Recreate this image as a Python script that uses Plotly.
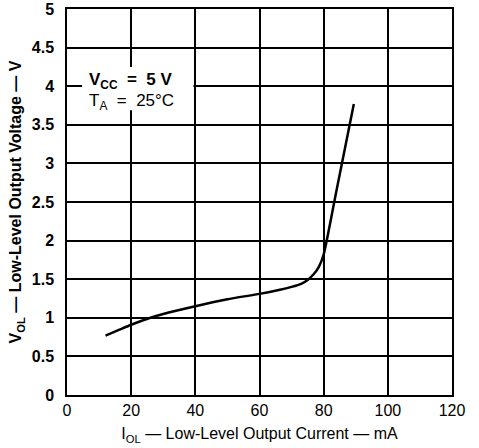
import plotly.graph_objects as go

current_ma = [12, 16, 20, 26, 30, 40, 50, 60, 66, 70, 73, 75, 77, 78.5, 80, 84, 89.4]
vol_v = [0.77, 0.84, 0.91, 1.0, 1.05, 1.15, 1.24, 1.31, 1.36, 1.40, 1.44, 1.49, 1.57, 1.66, 1.82, 2.65, 3.77]

x_ticks = [0, 20, 40, 60, 80, 100, 120]
y_ticks = [0, 0.5, 1, 1.5, 2, 2.5, 3, 3.5, 4, 4.5, 5]

FONT = "Liberation Sans, Arial, Helvetica, sans-serif"

fig = go.Figure()
fig.add_trace(go.Scatter(
    x=current_ma, y=vol_v, mode="lines",
    line=dict(color="black", width=2.5, shape="spline", smoothing=0.6),
    showlegend=False, hoverinfo="skip",
))

fig.add_shape(type="rect", xref="x", yref="y", x0=4.7, x1=39.4, y0=3.69, y1=4.25,
              fillcolor="white", line=dict(width=0), layer="above")

fig.add_annotation(x=6.3, y=4.07, xref="x", yref="y", xanchor="left", yanchor="middle",
                   text="<b>V<sub>CC</sub>&nbsp; = &nbsp;5 V</b>", showarrow=False,
                   font=dict(family=FONT, size=17, color="black"))
fig.add_annotation(x=6.3, y=3.79, xref="x", yref="y", xanchor="left", yanchor="middle",
                   text="T<sub>A</sub>&nbsp; = &nbsp;25°C", showarrow=False,
                   font=dict(family=FONT, size=17, color="black"))

fig.update_xaxes(range=[0, 120], tickvals=x_ticks, ticktext=[str(v) for v in x_ticks],
                 showgrid=True, gridcolor="black", gridwidth=1.5,
                 showline=True, linecolor="black", linewidth=1.5, mirror=True,
                 ticks="", zeroline=False, automargin=False,
                 tickfont=dict(family=FONT, size=16, color="black"),
                 title=dict(text="I<sub>OL</sub> \u2014 Low-Level Output Current \u2014 mA",
                            font=dict(family=FONT, size=16, color="black"), standoff=10))
fig.update_yaxes(range=[0, 5], tickvals=y_ticks,
                 ticktext=["<b>%s</b>" % ("%g" % v) for v in y_ticks],
                 showgrid=True, gridcolor="black", gridwidth=1.5,
                 showline=True, linecolor="black", linewidth=1.5, mirror=True,
                 ticks="", zeroline=False, automargin=False, ticklabelstandoff=8,
                 tickfont=dict(family=FONT, size=16, color="black"),
                 title=dict(text="<b>V<sub>OL</sub> \u2014 Low-Level Output Voltage \u2014 V</b>",
                            font=dict(family=FONT, size=16, color="black"), standoff=6))

fig.update_layout(width=479, height=448, margin=dict(l=67, r=27, t=9, b=53),
                  paper_bgcolor="white", plot_bgcolor="white",
                  font=dict(family=FONT, color="black"))

fig.write_html("out.html", config={"displayModeBar": False},
               post_script="document.body.style.margin='0';")
